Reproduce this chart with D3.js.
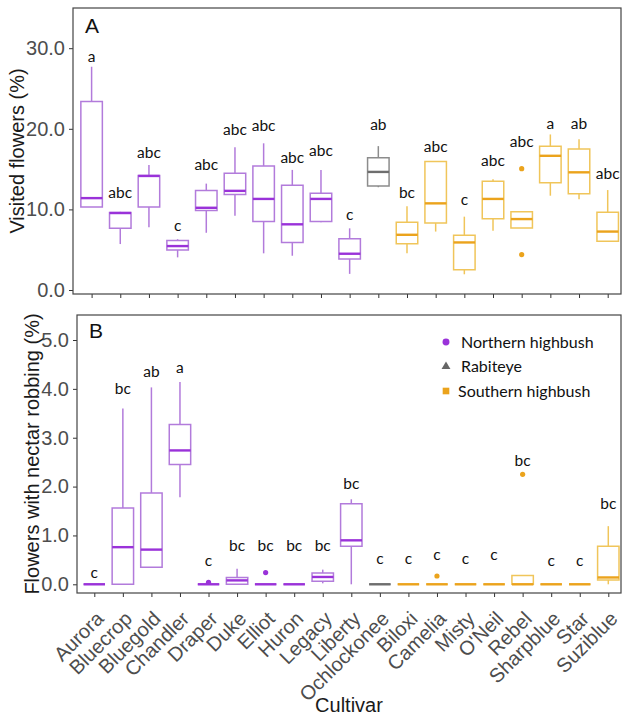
<!DOCTYPE html>
<html>
<head>
<meta charset="utf-8">
<script src="https://cdn.jsdelivr.net/npm/d3@7"></script>
<style>
  body { margin: 0; background: #fff; }
</style>
</head>
<body>
<script>
const cultivars = ['Aurora', 'Bluecrop', 'Bluegold', 'Chandler', 'Draper', 'Duke', 'Elliot', 'Huron',
  'Legacy', 'Liberty', 'Ochlockonee', 'Biloxi', 'Camelia', 'Misty', "O'Neil", 'Rebel', 'Sharpblue',
  'Star', 'Suziblue'];
const groups = ['N', 'N', 'N', 'N', 'N', 'N', 'N', 'N', 'N', 'N', 'R',
  'S', 'S', 'S', 'S', 'S', 'S', 'S', 'S'];
const groupNames = ['Northern highbush', 'Rabiteye', 'Southern highbush'];

// panel A: visited flowers (%)
const aLow = [10.3, 5.7, 7.8, 4.05, 7.1, 9.2, 4.55, 4.25, 8.4, 2.0, 12.75, 4.55, 7.25, 1.95, 7.35, 7.7, 11.7, 11.25, 6.0];
const aQ1 = [10.3, 7.65, 10.3, 4.95, 9.85, 11.85, 8.5, 5.9, 8.5, 3.85, 12.9, 5.75, 8.3, 2.5, 8.85, 7.7, 13.3, 11.95, 6.05];
const aMed = [11.4, 9.55, 14.15, 5.45, 10.2, 12.3, 11.3, 8.15, 11.3, 4.5, 14.65, 6.85, 10.75, 5.9, 11.3, 8.8, 16.65, 14.6, 7.25];
const aQ3 = [23.4, 9.6, 14.2, 6.15, 12.35, 14.5, 15.4, 13.0, 12.0, 6.35, 16.4, 8.4, 15.95, 6.8, 13.5, 9.7, 17.85, 17.5, 9.65];
const aHigh = [27.7, 9.7, 15.5, 6.3, 13.2, 17.7, 18.2, 14.9, 14.9, 7.65, 17.85, 10.4, 16.0, 9.1, 13.75, 9.7, 19.3, 18.7, 12.4];
const aOut = [[], [], [], [], [], [], [], [], [], [], [], [], [], [], [], [15.05, 4.4], [], [], []];
const aLetters = ['a', 'abc', 'abc', 'c', 'abc', 'abc', 'abc', 'abc', 'abc', 'c', 'ab', 'bc', 'abc', 'c', 'abc', 'abc', 'a', 'ab', 'abc'];
const aLetterY = [28.9, 12.1, 17.0, 8.0, 15.5, 19.85, 20.4, 16.4, 17.25, 9.3, 20.5, 12.1, 17.8, 11.25, 16.0, 18.4, 20.7, 20.6, 14.4];

// panel B: flowers with nectar robbing (%)
const bLow = [0, 0, 0.35, 1.78, 0, 0, 0, 0, 0.02, 0, 0, 0, 0, 0, 0, 0, 0, 0, 0];
const bQ1 = [0, 0, 0.35, 2.45, 0, 0, 0, 0, 0.06, 0.78, 0, 0, 0, 0, 0, 0, 0, 0, 0.09];
const bMed = [0, 0.76, 0.71, 2.74, 0, 0.08, 0, 0, 0.15, 0.9, 0, 0, 0, 0, 0, 0, 0, 0, 0.14];
const bQ3 = [0, 1.56, 1.87, 3.27, 0, 0.14, 0, 0, 0.23, 1.65, 0, 0, 0, 0, 0, 0.18, 0, 0, 0.78];
const bHigh = [0, 3.6, 4.03, 4.14, 0, 0.32, 0, 0, 0.30, 1.74, 0, 0, 0, 0, 0, 0.18, 0, 0, 1.19];
const bOut = [[], [], [], [], [0.04], [], [0.24], [], [], [], [], [], [0.17], [], [], [2.25], [], [], []];
const bLetters = ['c', 'bc', 'ab', 'a', 'c', 'bc', 'bc', 'bc', 'bc', 'bc', 'c', 'c', 'c', 'c', 'c', 'bc', 'c', 'c', 'bc'];
const bLetterY = [0.24, 4.0, 4.36, 4.43, 0.48, 0.8, 0.8, 0.8, 0.8, 2.07, 0.53, 0.53, 0.6, 0.53, 0.6, 2.53, 0.48, 0.48, 1.66];

const aTicks = [0, 10, 20, 30];
const bTicks = [0, 1, 2, 3, 4, 5];

const strong = { N: '#9a32d9', R: '#6e6e6e', S: '#eba31c' };
const light = { N: '#b27bdb', R: '#8c8c8c', S: '#f0c55a' };

const axisFont = '"Liberation Sans", Arial, sans-serif';
const letterFont = 'Lato, "Open Sans", sans-serif';

const width = 622;
const height = 717;

const svg = d3.select('body')
  .append('svg')
  .attr('width', width)
  .attr('height', height);

function drawPanel(p) {
  const x = d3.scalePoint().domain(cultivars).range(p.xRange);
  const y = d3.scaleLinear().domain(p.yDomain).range(p.yRange);
  const bw = x.step() * 0.75;

  const rows = cultivars.map((c, i) => ({
    c, g: groups[i], low: p.low[i], q1: p.q1[i], med: p.med[i], q3: p.q3[i], high: p.high[i],
    out: p.out[i], letter: p.letters[i], ly: p.letterY[i],
  }));

  // y axis
  const yAxis = d3.axisLeft(y).tickValues(p.ticks).tickFormat(d3.format('.1f'))
    .tickSize(4).tickPadding(4);
  const gy = svg.append('g')
    .attr('transform', `translate(${p.left}, 0)`)
    .call(yAxis);
  gy.select('.domain').remove();
  gy.selectAll('line').attr('stroke', '#333');
  gy.selectAll('text')
    .attr('fill', '#4d4d4d')
    .style('font-family', axisFont)
    .style('font-size', '20px');

  // x axis
  const xAxis = d3.axisBottom(x).tickSize(4);
  const gx = svg.append('g')
    .attr('transform', `translate(0, ${p.bottom})`)
    .call(xAxis);
  gx.select('.domain').remove();
  gx.selectAll('line').attr('stroke', '#333');
  if (p.labels) {
    gx.selectAll('text')
      .attr('x', 0)
      .attr('y', 0)
      .attr('dy', 0)
      .attr('transform', 'translate(10, 27) rotate(-45)')
      .style('text-anchor', 'end')
      .attr('fill', '#4d4d4d')
      .style('font-family', axisFont)
      .style('font-size', '20px');
  } else {
    gx.selectAll('text').remove();
  }

  // frame
  svg.append('rect')
    .attr('x', p.left)
    .attr('y', p.top)
    .attr('width', p.right - p.left)
    .attr('height', p.bottom - p.top)
    .attr('fill', 'none')
    .attr('stroke', '#444')
    .attr('stroke-width', 1.2);

  const g = svg.append('g');

  // whiskers
  g.selectAll('.wh')
    .data(rows.filter((d) => d.high > d.q3))
    .join('line')
    .attr('x1', (d) => x(d.c))
    .attr('x2', (d) => x(d.c))
    .attr('y1', (d) => y(d.q3))
    .attr('y2', (d) => y(d.high))
    .attr('stroke', (d) => light[d.g])
    .attr('stroke-width', 1.5);

  g.selectAll('.wl')
    .data(rows.filter((d) => d.low < d.q1))
    .join('line')
    .attr('x1', (d) => x(d.c))
    .attr('x2', (d) => x(d.c))
    .attr('y1', (d) => y(d.q1))
    .attr('y2', (d) => y(d.low))
    .attr('stroke', (d) => light[d.g])
    .attr('stroke-width', 1.5);

  // boxes
  g.selectAll('.box')
    .data(rows)
    .join('path')
    .attr('d', (d) => {
      const x0 = x(d.c) - bw / 2;
      const x1 = x(d.c) + bw / 2;
      return `M${x0},${y(d.q3)}H${x1}V${y(d.q1)}H${x0}Z`;
    })
    .attr('fill', 'none')
    .attr('stroke', (d) => light[d.g])
    .attr('stroke-width', 1.5);

  // medians
  g.selectAll('.med')
    .data(rows)
    .join('line')
    .attr('x1', (d) => x(d.c) - bw / 2)
    .attr('x2', (d) => x(d.c) + bw / 2)
    .attr('y1', (d) => y(d.med))
    .attr('y2', (d) => y(d.med))
    .attr('stroke', (d) => strong[d.g])
    .attr('stroke-width', 2.4);

  // outliers
  const outs = rows.flatMap((d) => d.out.map((v) => ({ c: d.c, g: d.g, v })));
  g.selectAll('.out')
    .data(outs)
    .join('circle')
    .attr('cx', (d) => x(d.c))
    .attr('cy', (d) => y(d.v))
    .attr('r', 2.6)
    .attr('fill', (d) => strong[d.g]);

  // significance letters
  g.selectAll('.let')
    .data(rows)
    .join('text')
    .attr('x', (d) => x(d.c))
    .attr('y', (d) => y(d.ly))
    .attr('dy', '0.35em')
    .style('text-anchor', 'middle')
    .style('font-family', letterFont)
    .style('font-size', '15.5px')
    .attr('fill', '#111')
    .text((d) => d.letter);

  // panel tag
  svg.append('text')
    .attr('x', p.tagX)
    .attr('y', p.tagY)
    .style('font-family', axisFont)
    .style('font-size', '21px')
    .attr('fill', '#111')
    .text(p.tag);

  // y title
  svg.append('text')
    .attr('transform', `translate(${p.titleX}, ${(p.top + p.bottom) / 2}) rotate(-90)`)
    .style('text-anchor', 'middle')
    .style('font-family', axisFont)
    .style('font-size', '20px')
    .attr('fill', '#1a1a1a')
    .text(p.title);
}

drawPanel({
  left: 73, right: 621, top: 8, bottom: 294,
  xRange: [91.6, 607.7], yDomain: [0, 30], yRange: [290, 48.2], ticks: aTicks,
  low: aLow, q1: aQ1, med: aMed, q3: aQ3, high: aHigh, out: aOut, letters: aLetters, letterY: aLetterY,
  labels: false, tag: 'A', tagX: 85, tagY: 33, title: 'Visited flowers (%)', titleX: 24,
});

drawPanel({
  left: 77, right: 621, top: 315, bottom: 593,
  xRange: [94.3, 608.3], yDomain: [0, 5], yRange: [584.3, 340], ticks: bTicks,
  low: bLow, q1: bQ1, med: bMed, q3: bQ3, high: bHigh, out: bOut, letters: bLetters, letterY: bLetterY,
  labels: true, tag: 'B', tagX: 89, tagY: 338, title: 'Flowers with nectar robbing (%)', titleX: 39,
});

// x title
svg.append('text')
  .attr('x', 349)
  .attr('y', 712)
  .style('text-anchor', 'middle')
  .style('font-family', axisFont)
  .style('font-size', '20px')
  .attr('fill', '#1a1a1a')
  .text('Cultivar');

// legend
const legend = svg.append('g').attr('transform', 'translate(446, 342)');
const legendY = d3.scalePoint().domain(groupNames).range([0, 49]);
const legendKey = ['N', 'R', 'S'];
const legendShape = [d3.symbolCircle, d3.symbolTriangle, d3.symbolSquare];
const legendSize = [38, 34, 44];

legend.selectAll('path')
  .data(groupNames)
  .join('path')
  .attr('transform', (d) => `translate(0, ${legendY(d)})`)
  .attr('d', (d, i) => d3.symbol().type(legendShape[i]).size(legendSize[i])())
  .attr('fill', (d, i) => (i === 1 ? '#666' : strong[legendKey[i]]));

legend.selectAll('text')
  .data(groupNames)
  .join('text')
  .attr('x', (d, i) => (i === 2 ? 12 : 15))
  .attr('y', (d) => legendY(d))
  .attr('dy', '0.35em')
  .style('font-family', letterFont)
  .style('font-size', '16px')
  .attr('fill', '#111')
  .text((d) => d);
</script>
</body>
</html>
